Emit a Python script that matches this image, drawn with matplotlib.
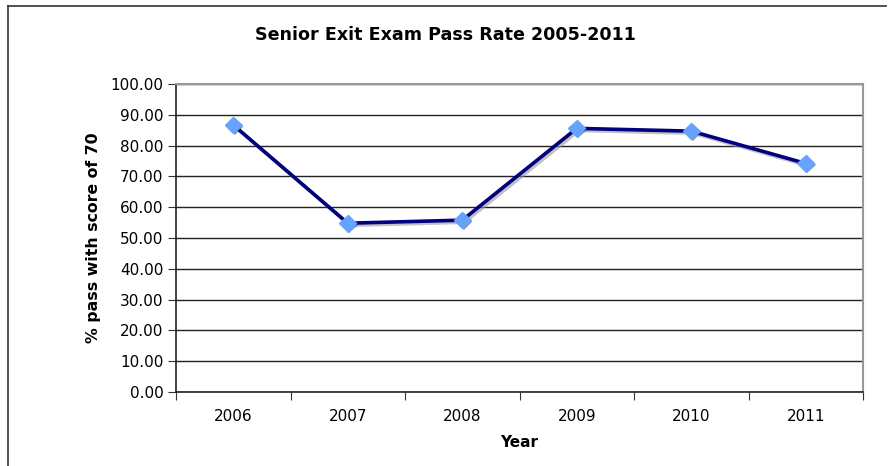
import matplotlib.pyplot as plt
import matplotlib.patheffects as pe
from matplotlib.lines import Line2D
import numpy as np

years = ["2006", "2007", "2008", "2009", "2010", "2011"]
pass_rate = [86.7, 54.8, 55.8, 85.6, 84.7, 74.2]
y_ticks = [0, 10, 20, 30, 40, 50, 60, 70, 80, 90, 100]

plt.rcParams['font.family'] = ['DejaVu Sans']

fig = plt.figure(figsize=(8.9, 4.66), dpi=100)
ax = fig.add_axes([0.1978, 0.1588, 0.7719, 0.6609])

# outer chart frame (left and top edges only are visible)
fig.add_artist(Line2D([0.009, 0.009], [0.0, 0.987], transform=fig.transFigure,
                      color='#333333', lw=1.2))
fig.add_artist(Line2D([0.009, 0.995], [0.987, 0.987], transform=fig.transFigure,
                      color='#333333', lw=1.2))

x = np.arange(len(years))
shadow = [pe.SimpleLineShadow(offset=(1.5, -1.5), shadow_color='#999999', alpha=0.6),
          pe.Normal()]
ax.plot(x, pass_rate, color='#000080', lw=2.6, zorder=3, path_effects=shadow)
ax.plot(x, pass_rate, ls='none', marker='D', ms=8.5, mfc='#66a3ff', mec='#66a3ff',
        zorder=4, path_effects=[pe.SimplePatchShadow(offset=(1.2, -1.2), alpha=0.5),
                                pe.Normal()])

ax.set_xlim(-0.5, len(years) - 0.5)
ax.set_ylim(0, 100)
ax.set_yticks(y_ticks)
ax.set_yticklabels([f"{v:.2f}" for v in y_ticks])
ax.yaxis.grid(True, color='#222222', lw=1.0)
ax.set_axisbelow(True)

ax.set_xticks(np.arange(-0.5, len(years)), labels=[""] * (len(years) + 1))
ax.set_xticks(x, labels=years, minor=True)
ax.tick_params(axis='x', which='minor', length=0, labelsize=11, pad=12)
ax.tick_params(axis='x', which='major', length=6, direction='out', color='#333333')
ax.tick_params(axis='y', length=6, direction='out', labelsize=11, pad=3, color='#333333')

for side in ['top', 'right']:
    ax.spines[side].set_color('#999999')
    ax.spines[side].set_linewidth(1.5)
for side in ['left', 'bottom']:
    ax.spines[side].set_color('#222222')
    ax.spines[side].set_linewidth(1.2)

ax.set_xlabel("Year", fontsize=11, fontweight='bold', labelpad=8)
ax.set_ylabel("% pass with score of 70", fontsize=11.3, fontweight='bold')
ax.yaxis.set_label_coords(-0.109, 0.5)
fig.text(0.5, 0.925, "Senior Exit Exam Pass Rate 2005-2011", ha='center', va='center',
         fontsize=12.6, fontweight='bold')

fig.savefig("out.png", dpi=100)
